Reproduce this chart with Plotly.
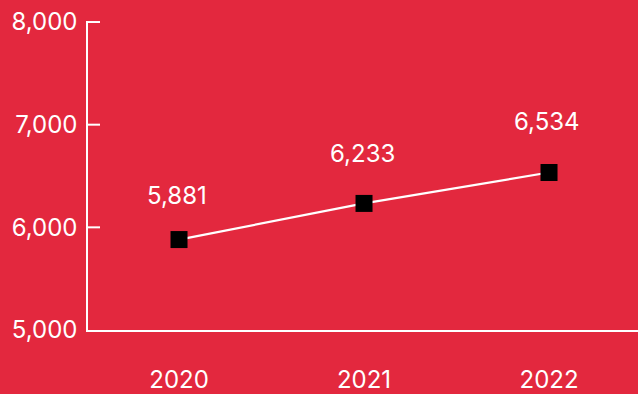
import plotly.graph_objects as go

# Yearly totals
years = ["2020", "2021", "2022"]
values = [5881, 6233, 6534]
y_ticks = [5000, 6000, 7000, 8000]

BG = "#E3283E"
FONT = "Inter"
SIZE = 24
TICK_LEN_PX = 12
PLOT_W_PX = 638 - 88

fig = go.Figure()
fig.add_trace(go.Scatter(
    x=years, y=values,
    mode="lines+markers",
    line=dict(color="white", width=2.2),
    marker=dict(symbol="square", size=17, color="black",
                line=dict(color="black", width=0)),
    hoverinfo="skip",
    showlegend=False,
))

# value labels above each point (category index used for x)
label_shift = [44, 50, 51]
for i, (v, s) in enumerate(zip(values, label_shift)):
    fig.add_annotation(
        x=i, y=v, xref="x", yref="y", text=f"{v:,}", showarrow=False,
        yshift=s, xshift=-2,
        font=dict(family=FONT, size=SIZE, color="white"),
    )

# short tick marks pointing into the plot from the y-axis line
for t in y_ticks[1:]:
    fig.add_shape(
        type="line", xref="paper", yref="y", layer="above",
        x0=0, x1=TICK_LEN_PX / PLOT_W_PX, y0=t, y1=t,
        line=dict(color="white", width=2),
    )

fig.update_layout(
    width=638, height=394,
    margin=dict(l=88, r=0, t=21, b=64),
    paper_bgcolor=BG, plot_bgcolor=BG,
    font=dict(family=FONT, size=SIZE, color="white"),
)
fig.update_xaxes(
    type="category",
    range=[-0.492, 2.481],
    showgrid=False, zeroline=False,
    showline=True, linecolor="white", linewidth=1.5,
    ticks="", ticklabelstandoff=27,
    tickfont=dict(family=FONT, size=SIZE, color="white"),
)
fig.update_yaxes(
    range=[5000, 8010],
    tickmode="array",
    tickvals=y_ticks,
    ticktext=[f"{t:,}" for t in y_ticks],
    showgrid=False, zeroline=False,
    showline=True, linecolor="white", linewidth=1.5,
    ticks="", ticklabelstandoff=4,
    tickfont=dict(family=FONT, size=SIZE, color="white"),
)

fig.write_html("out.html")
